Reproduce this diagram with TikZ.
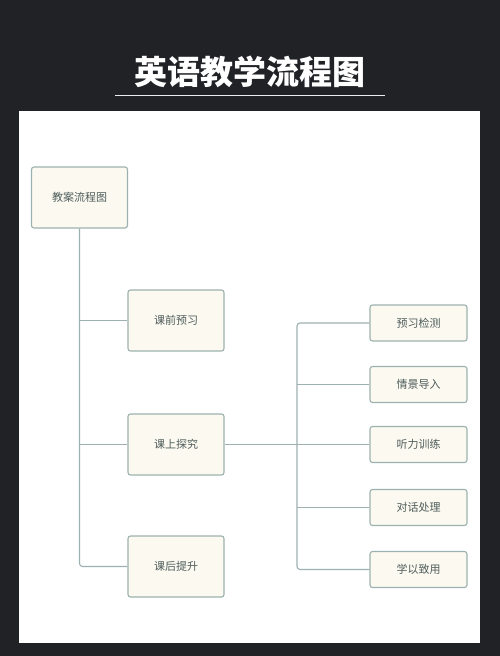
\documentclass[tikz,border=0pt]{standalone}
\usepackage{fontspec}
\setmainfont{Noto Sans CJK SC}
\newfontfamily\titlefont{Noto Sans CJK SC}
\usepackage{tikz}
\usetikzlibrary{positioning}
\definecolor{board}{HTML}{202226}
\definecolor{edge}{HTML}{9DB2B0}
\definecolor{cream}{HTML}{FBF9F0}
\definecolor{ink}{HTML}{4F5D5C}
\tikzset{
  box/.style={draw=edge, line width=1.1pt, fill=cream, rounded corners=2.5pt,
    text=ink, font=\fontsize{11}{13}\selectfont, inner sep=0pt},
  bigbox/.style={box, minimum width=96pt, minimum height=61pt},
  smallbox/.style={box, minimum width=97pt, minimum height=36pt},
  link/.style={draw=edge, line width=1.1pt}
}
\begin{document}
\begin{tikzpicture}[x=1pt,y=-1pt]
          \fill[board] (0,0) rectangle (500,656);
          \useasboundingbox (0,0) rectangle (500,656);
          \node[text=white, font=\titlefont\bfseries\fontsize{33}{36}\selectfont] (title) at (250,72) {英语教学流程图};
          \draw[white!85!gray, line width=0.8pt] (115,95.5)--(385,95.5);
          \fill[white] (19,111) rectangle (480,643);
          % left part
          \node[bigbox] (root) at (79.5,197.5) {教案流程图};
          \node[bigbox] (pre) at (176,320.5) {课前预习};
          \node[bigbox] (mid) at (176,444.5) {课上探究};
          \node[bigbox] (post) at (176,566.5) {课后提升};
          \draw[link, rounded corners=3pt] (root.south) |- (post.west);
          \draw[link] (pre.west) -- (pre.west -| root.south);
          \draw[link] (mid.west) -- (mid.west -| root.south);
          % right part
          \node[smallbox] (check) at (418.5,323) {预习检测};
          \node[smallbox] (scene) at (418.5,384.5) {情景导入};
          \node[smallbox] (listen) at (418.5,444.5) {听力训练};
          \node[smallbox] (talk) at (418.5,507.5) {对话处理};
          \node[smallbox] (use) at (418.5,569.5) {学以致用};
          \coordinate (hub) at (297,444.5);
          \draw[link, rounded corners=3pt] (check.west) -| (hub) |- (use.west);
          \draw[link] (mid.east) -- (listen.west);
          \draw[link] (scene.west) -- (scene.west -| hub);
          \draw[link] (talk.west) -- (talk.west -| hub);
        \end{tikzpicture}
\end{document}
